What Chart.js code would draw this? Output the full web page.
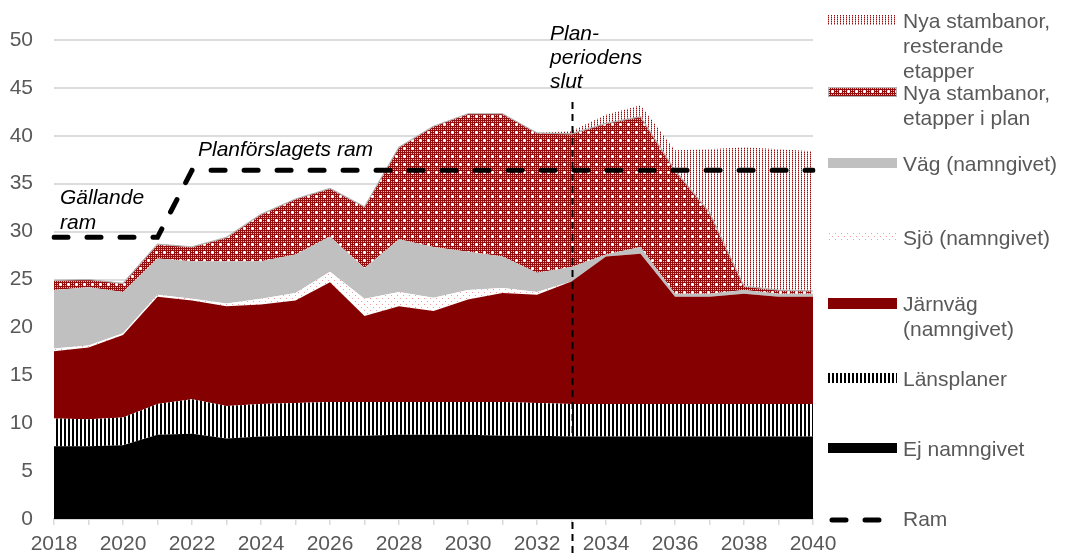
<!DOCTYPE html>
<html>
<head>
<meta charset="utf-8">
<script src="https://cdn.jsdelivr.net/npm/chart.js@4/dist/chart.umd.min.js"></script>
<style>
  html, body { margin: 0; padding: 0; background: #ffffff; }
  #wrap { position: relative; width: 1065px; height: 556px; overflow: hidden; font-family: "Liberation Sans", Arial, sans-serif; }
  #c { position: absolute; left: 0; top: 0; }
  .ann { position: absolute; font-style: italic; font-size: 21px; line-height: 25px; color: #000; white-space: nowrap; }
  .lg-text { position: absolute; left: 903px; font-size: 21px; line-height: 25px; color: #595959; white-space: nowrap; }
  .lg-mark { position: absolute; left: 828px; }
</style>
</head>
<body>
<div id="wrap">
  <canvas id="c" width="1065" height="556"></canvas>
  <div class="ann" style="left:60px; top:184px;">Gällande<br>ram</div>
  <div class="ann" style="left:198px; top:136px;">Planförslagets ram</div>
  <div class="ann" style="left:550px; top:21px; line-height:24px;">Plan-<br>periodens<br>slut</div>
  <div id="legend"></div>
</div>
<script>
// ---------------- DATA ----------------
const years = ['2018','2019','2020','2021','2022','2023','2024','2025','2026','2027','2028','2029','2030','2031','2032','2033','2034','2035','2036','2037','2038','2039','2040'];
const ejNamngivet       = [7.6, 7.6, 7.7, 8.8, 8.9, 8.4, 8.6, 8.7, 8.7, 8.7, 8.8, 8.8, 8.8, 8.7, 8.7, 8.6, 8.6, 8.6, 8.6, 8.6, 8.6, 8.6, 8.6];
const lansplaner        = [2.9, 2.8, 2.9, 3.2, 3.6, 3.4, 3.4, 3.4, 3.5, 3.5, 3.4, 3.4, 3.4, 3.5, 3.4, 3.4, 3.4, 3.4, 3.4, 3.4, 3.4, 3.4, 3.4];
const jarnvag           = [7.0, 7.5, 8.6, 11.2, 10.3, 10.4, 10.4, 10.7, 12.5, 9.0, 10.0, 9.5, 10.7, 11.4, 11.3, 12.8, 15.4, 15.7, 11.2, 11.2, 11.5, 11.2, 11.2];
const sjo               = [0.3, 0.2, 0.2, 0.2, 0.2, 0.3, 0.6, 0.8, 1.1, 1.8, 1.5, 1.4, 1.0, 0.5, 0.3, 0, 0, 0, 0, 0, 0, 0, 0];
const vag               = [6.1, 6.1, 4.3, 3.8, 3.9, 4.4, 3.9, 4.0, 3.7, 3.2, 5.5, 5.3, 4.0, 3.3, 2.0, 1.5, 0.2, 0.7, 0.3, 0.3, 0.4, 0.3, 0.3];
const etapperIPlan      = [1.0, 0.8, 0.9, 1.5, 1.5, 2.5, 4.9, 5.8, 5.0, 6.4, 9.6, 12.6, 14.4, 14.9, 14.6, 13.9, 13.7, 13.6, 12.9, 8.5, 0.4, 0.4, 0.3];
const resterandeEtapper = [0, 0, 0, 0, 0, 0, 0, 0, 0, 0, 0, 0, 0, 0, 0, 0.3, 0.9, 1.2, 2.1, 6.6, 14.5, 14.7, 14.6];
const ram               = [29.4, 29.4, 29.4, 29.4, 36.4, 36.4, 36.4, 36.4, 36.4, 36.4, 36.4, 36.4, 36.4, 36.4, 36.4, 36.4, 36.4, 36.4, 36.4, 36.4, 36.4, 36.4, 36.4];
const yTicks = [0, 5, 10, 15, 20, 25, 30, 35, 40, 45, 50];
const planEndYear = '2033';

const labels = {
  rest: ['Nya stambanor,', 'resterande', 'etapper'],
  plan: ['Nya stambanor,', 'etapper i plan'],
  vag: ['Väg (namngivet)'],
  sjo: ['Sjö (namngivet)'],
  jarn: ['Järnväg', '(namngivet)'],
  lans: ['Länsplaner'],
  ej: ['Ej namngivet'],
  ram: ['Ram']
};

// ---------------- PATTERNS ----------------
const RED = '#850000';
function tile(w, h, fn) {
  const c = document.createElement('canvas');
  c.width = w; c.height = h;
  const x = c.getContext('2d');
  fn(x);
  return c;
}
const tiles = {
  lans: tile(4, 4, x => { x.fillStyle = '#fff'; x.fillRect(0,0,4,4); x.fillStyle = '#000'; x.fillRect(0,0,2,4); }),
  sjo: tile(6, 6, x => { x.fillStyle = '#fff'; x.fillRect(0,0,6,6); x.fillStyle = '#f39a9a'; x.fillRect(1,1,1,1); x.fillRect(4,4,1,1); }),
  plan: tile(8, 8, x => {
    x.fillStyle = '#950d0d'; x.fillRect(0,0,8,8);
    x.fillStyle = 'rgba(255,235,235,0.85)';
    for (let i = 1; i < 8; i += 2) for (let j = 1; j < 8; j += 2) x.fillRect(i, j, 1, 1);
    x.fillStyle = '#ffffff';
    x.fillRect(4,3,1,1); x.fillRect(3,4,3,1); x.fillRect(4,5,1,1);
  }),
  rest: tile(3, 2, x => {
    x.fillStyle = '#ffffff'; x.fillRect(0,0,3,2);
    x.fillStyle = '#9a0a0a'; x.fillRect(0,0,1,1);
    x.fillStyle = '#d88a8a'; x.fillRect(0,1,1,1);
  })
};

const canvas = document.getElementById('c');
const ctx = canvas.getContext('2d');
const pat = k => ctx.createPattern(tiles[k], 'repeat');

// ---------------- PLUGINS ----------------
const planLine = {
  id: 'planLine',
  afterDatasetsDraw(chart) {
    const xs = chart.scales.x;
    const px = Math.round(xs.getPixelForValue(years.indexOf(planEndYear))) + 0.5;
    const c = chart.ctx;
    c.save();
    c.strokeStyle = '#000';
    c.lineWidth = 2;
    c.setLineDash([7, 5]);
    c.beginPath();
    c.moveTo(px, 102);
    c.lineTo(px, chart.height);
    c.stroke();
    c.restore();
  }
};

const common = { pointRadius: 0, pointHoverRadius: 0, tension: 0, stack: 'main' };

new Chart(ctx, {
  type: 'line',
  data: {
    labels: years,
    datasets: [
      { ...common, label: 'Ej namngivet', data: ejNamngivet, backgroundColor: '#000000', borderWidth: 0, fill: 'origin' },
      { ...common, label: 'Länsplaner', data: lansplaner, backgroundColor: pat('lans'), borderWidth: 0, fill: '-1' },
      { ...common, label: 'Järnväg (namngivet)', data: jarnvag, backgroundColor: RED, borderWidth: 0, fill: '-1' },
      { ...common, label: 'Sjö (namngivet)', data: sjo, backgroundColor: pat('sjo'), borderWidth: 0, fill: '-1' },
      { ...common, label: 'Väg (namngivet)', data: vag, backgroundColor: '#c0c0c0', borderWidth: 0, fill: '-1' },
      { ...common, label: 'Nya stambanor, etapper i plan', data: etapperIPlan, backgroundColor: pat('plan'), borderColor: '#b3b3b3', borderWidth: 1.2, fill: '-1' },
      { ...common, label: 'Nya stambanor, resterande etapper', data: resterandeEtapper, backgroundColor: pat('rest'), borderWidth: 0, fill: '-1' },
      { label: 'Ram', data: ram, stack: 'ram', order: -1, fill: false, pointRadius: 0, tension: 0,
        borderColor: '#000', borderWidth: 5, borderDash: [14, 19], borderCapStyle: 'round' }
    ]
  },
  options: {
    responsive: false,
    animation: false,
    devicePixelRatio: 1,
    layout: { padding: { top: 40, right: 252, left: 0, bottom: 0 } },
    plugins: { legend: { display: false }, tooltip: { enabled: false } },
    scales: {
      x: {
        offset: false,
        grid: { display: true, drawOnChartArea: false, drawTicks: true, tickLength: 6, color: '#d9d9d9', lineWidth: 1.5 },
        border: { display: true, color: '#d9d9d9', width: 2 },
        ticks: {
          autoSkip: false, maxRotation: 0, padding: 7, color: '#595959',
          font: { family: '"Liberation Sans", Arial, sans-serif', size: 21 },
          callback: (v, i) => (i % 2 === 0 ? years[i] : '')
        },
        afterFit: s => { s.height = 37; }
      },
      y: {
        stacked: true, min: 0, max: 50,
        afterBuildTicks: s => { s.ticks = yTicks.map(v => ({ value: v })); },
        grid: { color: '#dcdcdc', lineWidth: 2, drawTicks: false },
        border: { display: false },
        ticks: { padding: 21, color: '#595959', font: { family: '"Liberation Sans", Arial, sans-serif', size: 21 } },
        afterFit: s => { s.width = 54; }
      }
    }
  },
  plugins: [planLine]
});

// ---------------- LEGEND (HTML) ----------------
const legend = document.getElementById('legend');
const items = [
  { key: 'rest', textTop: 8, markTop: 15, markH: 10, w: 69, fill: 'rest' },
  { key: 'plan', textTop: 80, markTop: 87, markH: 10, w: 69, fill: 'plan' },
  { key: 'vag', textTop: 151, markTop: 158, markH: 10, w: 69, fill: '#c0c0c0' },
  { key: 'sjo', textTop: 225, markTop: 232, markH: 10, w: 69, fill: 'sjo' },
  { key: 'jarn', textTop: 291, markTop: 298, markH: 11, w: 69, fill: RED },
  { key: 'lans', textTop: 366, markTop: 373, markH: 10, w: 69, fill: 'lans' },
  { key: 'ej', textTop: 436, markTop: 443, markH: 10, w: 69, fill: '#000' },
  { key: 'ram', textTop: 506, markTop: 514, markH: 12, w: 60, fill: 'ram' }
];
items.forEach(it => {
  const m = document.createElement('canvas');
  m.className = 'lg-mark';
  m.width = it.w; m.height = it.markH;
  m.style.top = it.markTop + 'px';
  const mc = m.getContext('2d');
  if (it.fill === 'ram') {
    mc.strokeStyle = '#000'; mc.lineWidth = 5; mc.lineCap = 'round';
    mc.beginPath(); mc.moveTo(4, 6); mc.lineTo(18, 6); mc.moveTo(37, 6); mc.lineTo(51, 6); mc.stroke();
  } else {
    mc.fillStyle = tiles[it.fill] ? mc.createPattern(tiles[it.fill], 'repeat') : it.fill;
    mc.fillRect(0, 0, it.w, it.markH);
    if (it.fill === 'plan') { mc.strokeStyle = '#b3b3b3'; mc.lineWidth = 1; mc.strokeRect(0.5, 0.5, it.w - 1, it.markH - 1); }
  }
  legend.appendChild(m);
  const t = document.createElement('div');
  t.className = 'lg-text';
  t.style.top = it.textTop + 'px';
  t.innerHTML = labels[it.key].join('<br>');
  legend.appendChild(t);
});
</script>
</body>
</html>
